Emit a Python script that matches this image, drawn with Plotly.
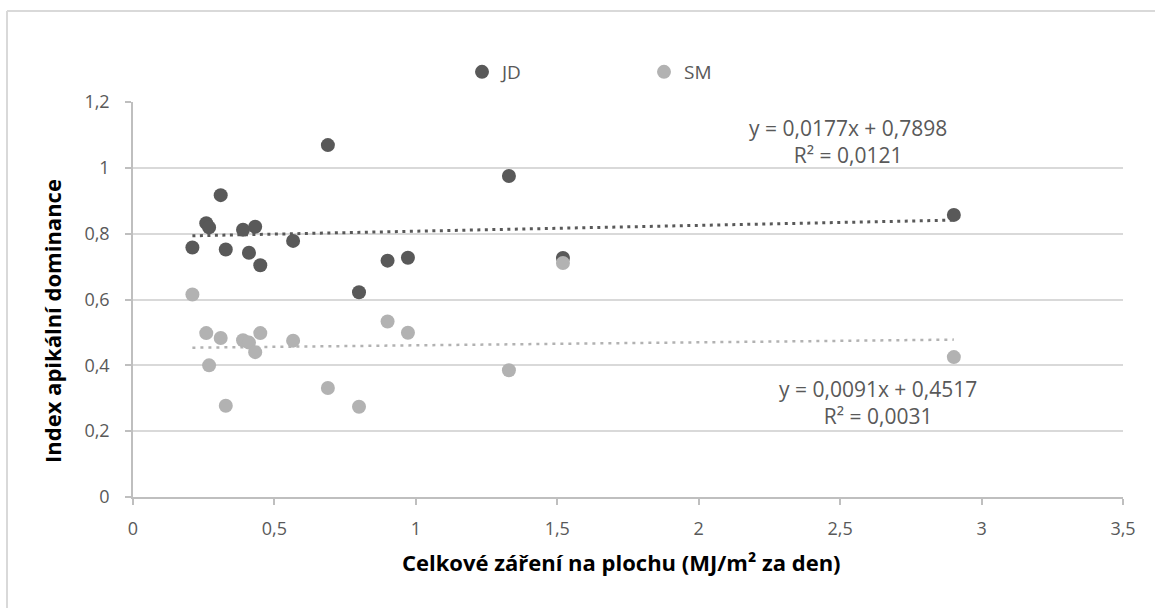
import plotly.graph_objects as go

# Radiation on the plot surface (MJ/m2 per day) and apical dominance index
x_jd = [0.21, 0.259, 0.269, 0.31, 0.328, 0.389, 0.41, 0.432, 0.45, 0.566,
        0.689, 0.799, 0.90, 0.972, 1.329, 1.52, 2.902]
y_jd = [0.758, 0.832, 0.819, 0.917, 0.752, 0.812, 0.742, 0.821, 0.704, 0.778,
        1.069, 0.622, 0.718, 0.727, 0.975, 0.726, 0.857]

x_sm = [0.21, 0.259, 0.269, 0.31, 0.328, 0.389, 0.41, 0.432, 0.45, 0.566,
        0.689, 0.799, 0.90, 0.972, 1.329, 1.52, 2.902]
y_sm = [0.615, 0.498, 0.400, 0.483, 0.277, 0.476, 0.469, 0.440, 0.498, 0.475,
        0.331, 0.274, 0.533, 0.499, 0.385, 0.711, 0.425]

# Linear trend coefficients (slope, intercept, R^2)
jd_fit = (0.0177, 0.7898, 0.0121)
sm_fit = (0.0091, 0.4517, 0.0031)

x_ticks = [0, 0.5, 1, 1.5, 2, 2.5, 3, 3.5]
x_tick_text = ["0", "0,5", "1", "1,5", "2", "2,5", "3", "3,5"]
y_ticks = [0, 0.2, 0.4, 0.6, 0.8, 1.0, 1.2]
y_tick_text = ["0", "0,2", "0,4", "0,6", "0,8", "1", "1,2"]

DARK = "#595959"
LIGHT = "#b2b2b2"
FONT = "Open Sans"

W, H = 1155, 608
ML, MR, MT, MB = 133, 32, 102, 111
PW, PH = W - ML - MR, H - MT - MB


def px_x(p):
    return (p - ML) / PW


def px_y(p):
    return (H - MB - p) / PH


def trend(xs, fit):
    lo, hi = min(xs), max(xs)
    return [lo, hi], [fit[0] * lo + fit[1], fit[0] * hi + fit[1]]


def fmt(v, nd):
    return f"{v:.{nd}f}".replace(".", ",")


fig = go.Figure()

tx, ty = trend(x_jd, jd_fit)
fig.add_trace(go.Scatter(x=tx, y=ty, mode="lines", showlegend=False,
                         line=dict(color=DARK, width=3, dash="3px,4.5px"),
                         hoverinfo="skip"))
tx, ty = trend(x_sm, sm_fit)
fig.add_trace(go.Scatter(x=tx, y=ty, mode="lines", showlegend=False,
                         line=dict(color=LIGHT, width=2.5, dash="3px,5px"),
                         hoverinfo="skip"))

fig.add_trace(go.Scatter(x=x_jd, y=y_jd, mode="markers", name="JD",
                         marker=dict(color=DARK, size=14)))
fig.add_trace(go.Scatter(x=x_sm, y=y_sm, mode="markers", name="SM",
                         marker=dict(color=LIGHT, size=14)))

eq_font = dict(family=FONT, size=21, color=DARK)
annotations = [
    dict(x=px_x(848), y=px_y(141), xref="paper", yref="paper", showarrow=False,
         xanchor="center", yanchor="middle",
         text=f"y = {fmt(jd_fit[0], 4)}x + {fmt(jd_fit[1], 4)}<br>R² = {fmt(jd_fit[2], 4)}",
         font=eq_font, align="center"),
    dict(x=px_x(878), y=px_y(402), xref="paper", yref="paper", showarrow=False,
         xanchor="center", yanchor="middle",
         text=f"y = {fmt(sm_fit[0], 4)}x + {fmt(sm_fit[1], 4)}<br>R² = {fmt(sm_fit[2], 4)}",
         font=eq_font, align="center"),
    dict(x=px_x(621), y=px_y(562), xref="paper", yref="paper", showarrow=False,
         xanchor="center", yanchor="middle",
         text="<b>Celkové záření na plochu (MJ/m² za den)</b>",
         font=dict(family=FONT, size=22, color="#000000")),
    dict(x=px_x(52), y=px_y(321), xref="paper", yref="paper", showarrow=False,
         xanchor="center", yanchor="middle",
         text="<b>Index apikální dominance</b>", textangle=-90,
         font=dict(family=FONT, size=22, color="#000000")),
]

shapes = [
    dict(type="line", xref="paper", yref="paper",
         x0=px_x(7), x1=px_x(W + 5), y0=px_y(11), y1=px_y(11),
         line=dict(color="#d9d9d9", width=2)),
    dict(type="line", xref="paper", yref="paper",
         x0=px_x(7), x1=px_x(7), y0=px_y(11), y1=px_y(H + 5),
         line=dict(color="#d9d9d9", width=2)),
]

fig.update_layout(
    width=W, height=H,
    margin=dict(l=ML, r=MR, t=MT, b=MB),
    paper_bgcolor="white", plot_bgcolor="white",
    font=dict(family=FONT, size=18, color=DARK),
    annotations=annotations,
    shapes=shapes,
    legend=dict(orientation="h", x=px_x(462), y=px_y(72), xanchor="left",
                yanchor="middle", entrywidth=137, font=dict(size=19, color=DARK),
                bgcolor="rgba(0,0,0,0)"),
    xaxis=dict(range=[0, 3.5], tickvals=x_ticks, ticktext=x_tick_text,
               showgrid=False, zeroline=False, showline=True,
               linecolor="#bfbfbf", linewidth=1.5,
               ticks="outside", ticklen=6, tickcolor="#bfbfbf", tickwidth=1.5,
               ticklabelstandoff=9,
               tickfont=dict(family=FONT, size=18, color=DARK)),
    yaxis=dict(range=[0, 1.2], tickvals=y_ticks, ticktext=y_tick_text,
               showgrid=True, gridcolor="#d9d9d9", gridwidth=1.5,
               zeroline=False, showline=True,
               linecolor="#bfbfbf", linewidth=1.5,
               ticks="outside", ticklen=6, tickcolor="#bfbfbf", tickwidth=1.5,
               ticklabelstandoff=12,
               tickfont=dict(family=FONT, size=18, color=DARK)),
)

fig.write_html("out.html")
